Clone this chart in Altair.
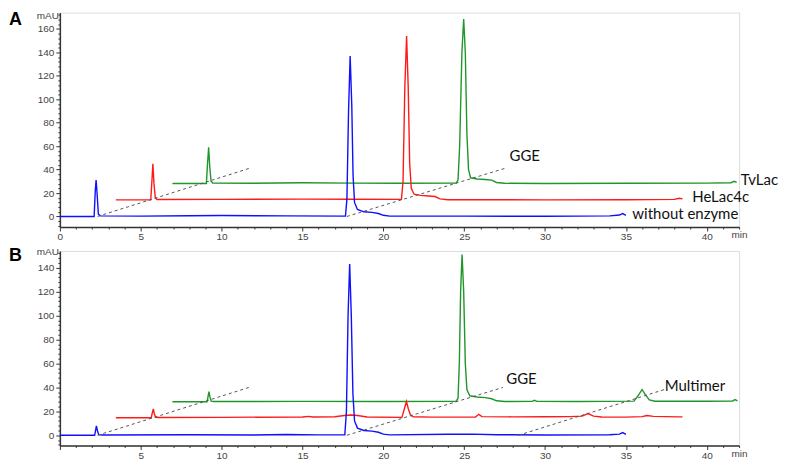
import altair as alt
import pandas as pd

# ---------------- Panel A (time in min, signal in mAU) ----------------
A_BLUE_T = [0, 2.12, 2.19, 2.24, 2.3, 2.38, 2.5, 5, 8, 10, 14, 17.66, 17.75, 17.85, 17.95, 18.05, 18.13, 18.22, 18.4, 18.8, 19.3, 19.7, 20.0, 20.4, 25, 30, 34.0, 34.6, 34.8, 35.0]
A_BLUE_Y = [0, 0, 22, 31, 20, 2, 0.5, 0.3, 0.6, 0.8, 0.5, 0.3, 15, 90, 137, 95, 35, 12, 6, 4, 3.5, 2.5, 1, 0.3, 0.3, 0.2, 0.5, 1.2, 2.5, 1]

A_RED_T = [3.46, 5.62, 5.69, 5.75, 5.82, 5.9, 6.0, 10, 15, 18, 21.12, 21.22, 21.33, 21.44, 21.54, 21.63, 21.73, 21.9, 22.3, 22.8, 23.2, 23.5, 24, 30, 35, 38.0, 38.3, 38.5]
A_RED_Y = [14.2, 14.2, 30, 45, 28, 16, 14.5, 14.6, 14.8, 14.7, 14.6, 30, 110, 154, 110, 45, 24, 19, 18, 17.5, 17, 15, 14.3, 14.2, 14.3, 14.6, 15.5, 15]

A_GREEN_T = [6.96, 9.06, 9.13, 9.2, 9.27, 9.35, 9.45, 12, 15, 18, 21, 24.5, 24.62, 24.72, 24.86, 24.97, 25.07, 25.17, 25.27, 25.4, 25.8, 26.3, 26.7, 27.0, 27.5, 30, 35, 40, 41.5, 41.7, 41.85]
A_GREEN_Y = [28.2, 28.2, 45, 59, 42, 30, 28.5, 28.4, 28.8, 28.5, 28.3, 28.5, 31, 60, 140, 168.5, 140, 70, 40, 33, 32, 31.5, 31, 29, 28.3, 28.2, 28.3, 28.5, 28.8, 30, 29]

A_DASH_T = [2.33, 17.75]
A_DASH_Y = [0, 0]
A_DASH_T2 = [11.7, 27.5]
A_DASH_Y2 = [41, 41]

A_LABEL_TEXT = ["TvLac", "HeLac4c", "without enzyme", "GGE"]
A_LABEL_T = [42.1, 39.1, 35.4, 27.8]
A_LABEL_Y = [30.7, 16.2, 1.9, 51.4]

# ---------------- Panel B ----------------
B_BLUE_T = [0, 2.15, 2.22, 2.26, 2.32, 2.4, 2.6, 8, 12, 14, 16, 17.62, 17.72, 17.82, 17.92, 18.02, 18.12, 18.22, 18.4, 18.8, 19.3, 19.7, 20.0, 20.4, 24, 25.5, 27, 30, 34.0, 34.6, 34.8, 35.0]
B_BLUE_Y = [0, 0, 5, 7.8, 4, 0.5, 0.2, 0.5, 0.2, 0.6, 0.3, 0.3, 20, 100, 143, 100, 35, 12, 6, 4, 3.5, 2.5, 1, 0.3, 0.8, 1, 0.5, 0.2, 0.5, 1, 2.2, 0.8]

B_RED_T = [3.46, 5.65, 5.72, 5.78, 5.84, 5.92, 6.1, 10, 15, 15.4, 15.6, 17, 17.6, 18.0, 18.4, 19, 21.15, 21.3, 21.43, 21.55, 21.68, 21.85, 23, 25.7, 25.9, 26.1, 28, 30, 31.5, 32.3, 32.65, 33.0, 33.5, 35, 36.0, 36.3, 36.7, 38.3, 38.5]
B_RED_Y = [14.6, 14.6, 19, 22, 18, 15, 14.8, 15.0, 15.3, 15.8, 15.3, 15.5, 16.5, 17, 16.5, 15.3, 15, 22, 28.3, 22, 17, 15.5, 15.2, 15.2, 17.5, 15.6, 15.4, 15.5, 15.6, 16, 18.2, 16, 15.3, 15.2, 15.6, 16.5, 15.8, 15.4, 15.4]

B_GREEN_T = [6.96, 9.1, 9.17, 9.22, 9.28, 9.36, 9.5, 15, 20, 24.5, 24.62, 24.7, 24.78, 24.87, 24.97, 25.07, 25.17, 25.35, 25.8, 26.3, 26.7, 27.0, 27.5, 29.2, 29.35, 29.5, 32, 35.5, 35.75, 36.0, 36.2, 36.45, 36.8, 40, 41.6, 41.75, 41.9]
B_GREEN_Y = [28, 28, 33, 36.5, 32, 28.5, 28.2, 28.3, 28.2, 28.3, 31, 60, 120, 151, 120, 60, 38, 33, 32, 31.5, 30.5, 28.8, 28.2, 28.3, 29.2, 28.3, 28.2, 28.5, 33, 38.3, 34, 29.5, 28.4, 28.4, 28.7, 29.8, 28.8]

B_DASH_T = [2.33, 17.75, 28.35]
B_DASH_Y = [0, 0, 0]
B_DASH_T2 = [11.7, 27.4, 37.4]
B_DASH_Y2 = [40, 40, 38.3]

B_LABEL_TEXT = ["GGE", "Multimer"]
B_LABEL_T = [27.6, 37.4]
B_LABEL_Y = [46.8, 41.3]

COLORS = {"blue": "#1010ff", "red": "#ff1a1a", "green": "#1f962a"}
AXIS_FONT = "Liberation Sans"
LABEL_FONT = "Lato"
W = 681


def x_axis(show_zero):
    zero = "" if show_zero else "datum.value == 0 ? '' : "
    return alt.Axis(
        values=list(range(0, 43)),
        labelExpr=zero + "(datum.value == 42 ? 'min' : (datum.value % 5 === 0 ? datum.label : ''))",
        tickSize={"condition": {"test": "datum.value % 5 === 0", "value": 4}, "value": 2},
        grid=False, title=None, labelFlush=False, labelOverlap=False,
        labelFont=AXIS_FONT, labelFontSize=10, labelColor="#444",
        domainColor="#333", tickColor="#333", domainWidth=1.5, labelPadding=1,
    )


def y_axis(lo, hi):
    return alt.Axis(
        values=list(range(lo, hi, 4)),
        labelExpr="datum.value % 20 === 0 ? datum.label : ''",
        tickSize={"condition": {"test": "datum.value % 20 === 0", "value": 4}, "value": 2},
        grid=False, title=None, labelOverlap=False,
        labelFont=AXIS_FONT, labelFontSize=10, labelColor="#444",
        domainColor="#333", tickColor="#333", domainWidth=1.5, labelPadding=2,
    )


def panel(traces, dash, labels, ydom, ylo, yhi, height, letter, letter_y, mau_y, show_zero):
    xs = alt.Scale(domain=[0, 42], nice=False, zero=False)
    ys = alt.Scale(domain=ydom, nice=False, zero=False)
    xa = x_axis(show_zero)
    ya = y_axis(ylo, yhi)
    X = lambda f: alt.X(f, scale=xs, axis=xa)
    Y = lambda f: alt.Y(f, scale=ys, axis=ya)
    layers = []
    for name, t, y in traces:
        df = pd.DataFrame({"t": t, "y": y})
        layers.append(
            alt.Chart(df).mark_line(color=COLORS[name], strokeWidth=1.4).encode(x=X("t:Q"), y=Y("y:Q"))
        )
    ddf = pd.DataFrame({"t": dash[0], "y": dash[1], "t2": dash[2], "y2": dash[3]})
    layers.append(
        alt.Chart(ddf).mark_rule(color="#555", strokeWidth=1, strokeDash=[3, 3]).encode(
            x=X("t:Q"), y=Y("y:Q"), x2="t2:Q", y2="y2:Q"
        )
    )
    ldf = pd.DataFrame({"text": labels[0], "t": labels[1], "y": labels[2]})
    layers.append(
        alt.Chart(ldf).mark_text(align="left", baseline="middle", font=LABEL_FONT, fontSize=15, color="#111").encode(
            x=X("t:Q"), y=Y("y:Q"), text="text:N"
        )
    )
    one = pd.DataFrame({"k": [0]})
    layers.append(
        alt.Chart(one).mark_text(align="left", baseline="top", font="Liberation Sans", fontSize=18,
                                 fontWeight="bold", color="#000").encode(
            x=alt.value(-51), y=alt.value(letter_y), text=alt.value(letter)
        )
    )
    layers.append(
        alt.Chart(one).mark_text(align="right", baseline="middle", font=AXIS_FONT, fontSize=10,
                                 color="#444").encode(
            x=alt.value(-1), y=alt.value(mau_y), text=alt.value("mAU")
        )
    )
    return alt.layer(*layers).properties(width=W, height=height)


panel_a = panel(
    [("green", A_GREEN_T, A_GREEN_Y), ("red", A_RED_T, A_RED_Y), ("blue", A_BLUE_T, A_BLUE_Y)],
    (A_DASH_T, A_DASH_Y, A_DASH_T2, A_DASH_Y2),
    (A_LABEL_TEXT, A_LABEL_T, A_LABEL_Y),
    [-9, 174], -8, 173, 215, "A", -2, 3, True,
)
panel_b = panel(
    [("green", B_GREEN_T, B_GREEN_Y), ("red", B_RED_T, B_RED_Y), ("blue", B_BLUE_T, B_BLUE_Y)],
    (B_DASH_T, B_DASH_Y, B_DASH_T2, B_DASH_Y2),
    (B_LABEL_TEXT, B_LABEL_T, B_LABEL_Y),
    [-8.5, 154], -8, 153, 195, "B", -4, 1, False,
)

chart = alt.vconcat(panel_a, panel_b, spacing=3).properties(
    padding={"left": 0, "top": 0, "right": 0, "bottom": 0}
).configure_view(stroke=None).configure(background="white")

chart.save("out.html", embed_options={"renderer": "svg", "actions": False})
